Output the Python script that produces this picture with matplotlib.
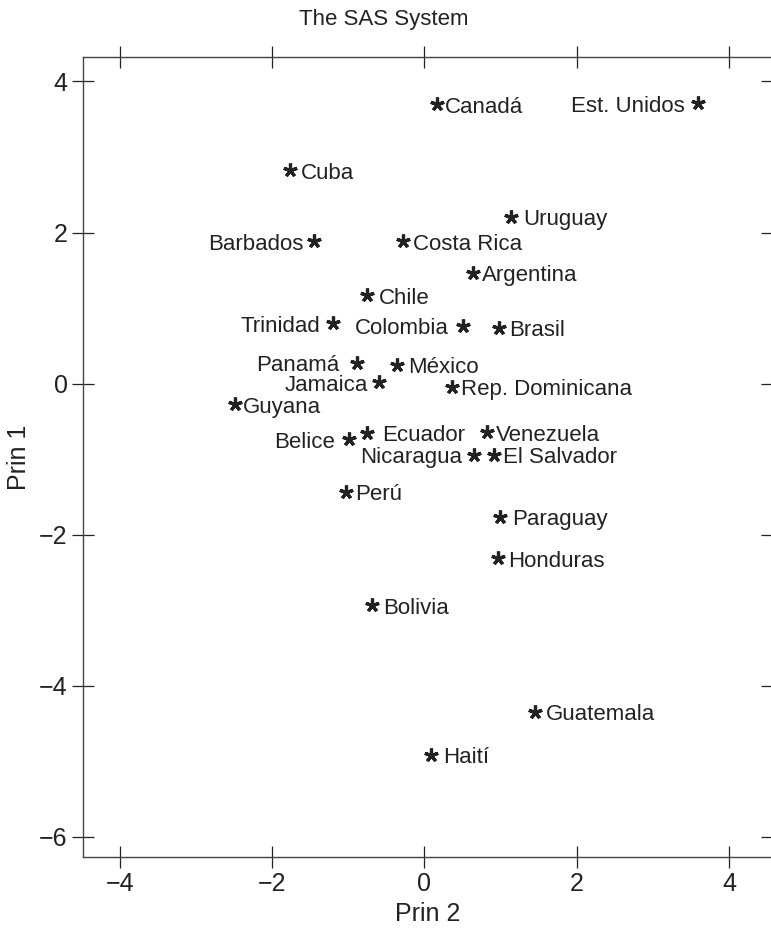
import matplotlib
matplotlib.use("Agg")
import matplotlib.pyplot as plt

# principal component scores
countries = ["Canadá", "Est. Unidos", "Cuba", "Uruguay", "Barbados", "Costa Rica",
             "Argentina", "Chile", "Trinidad", "Colombia", "Brasil", "Panamá",
             "México", "Jamaica", "Rep. Dominicana", "Guyana", "Belice", "Ecuador",
             "Venezuela", "Nicaragua", "El Salvador", "Perú", "Paraguay", "Honduras",
             "Bolivia", "Guatemala", "Haití"]
prin2 = [0.16, 3.59, -1.77, 1.14, -1.45, -0.28, 0.64, -0.76, -1.20, 0.51, 0.98, -0.89,
         -0.36, -0.60, 0.36, -2.49, -0.99, -0.76, 0.82, 0.65, 0.91, -1.03, 0.99, 0.97,
         -0.69, 1.45, 0.09]
prin1 = [3.70, 3.71, 2.83, 2.21, 1.89, 1.89, 1.47, 1.17, 0.80, 0.77, 0.74, 0.28,
         0.25, 0.02, -0.04, -0.27, -0.73, -0.65, -0.64, -0.94, -0.94, -1.43, -1.76, -2.31,
         -2.93, -4.34, -4.91]

# label placement: horizontal gap in pixels, negative = label left of the point
gaps = [8, -13, 11, 12, -11, 10, 9, 12, -13, -15, 10, -17,
        11, -11, 9, 8, -14, 15, 9, -12, 9, 9, 12, 10,
        11, 11, 12]

plt.rcParams['font.family'] = ['Liberation Sans', 'DejaVu Sans']
ink = "#222222"

fig = plt.figure(figsize=(7.71, 9.35), dpi=100)
ax = fig.add_axes([83 / 771, 78 / 935, 689 / 771, 800 / 935])

ax.plot(prin2, prin1, linestyle="none", marker=(5, 2, 0), markersize=10,
        markeredgewidth=2.3, color=ink)

for name, x, y, g in zip(countries, prin2, prin1, gaps):
    ax.annotate(name, (x, y), xytext=(g * 0.72, -0.5), textcoords="offset points",
                ha="left" if g > 0 else "right", va="center_baseline",
                fontsize=16, color=ink)

ax.set_xlim(-4.487, 4.566)
ax.set_ylim(-6.265, 4.324)
ax.set_xticks([-4, -2, 0, 2, 4])
ax.set_yticks([-6, -4, -2, 0, 2, 4])
ax.tick_params(direction="inout", length=16, width=0.9, colors=ink, labelsize=18,
               top=True, right=True, pad=3)
for s in ax.spines.values():
    s.set_linewidth(1.0)
    s.set_color("#444444")

ax.set_xlabel("Prin 2", fontsize=18, color=ink, labelpad=4)
ax.set_ylabel("Prin 1", fontsize=18, color=ink, labelpad=6)
fig.text(0.498, 1 - 19 / 935, "The SAS System", ha="center", va="center",
         fontsize=16, color=ink)

fig.savefig("out.png", dpi=100)
